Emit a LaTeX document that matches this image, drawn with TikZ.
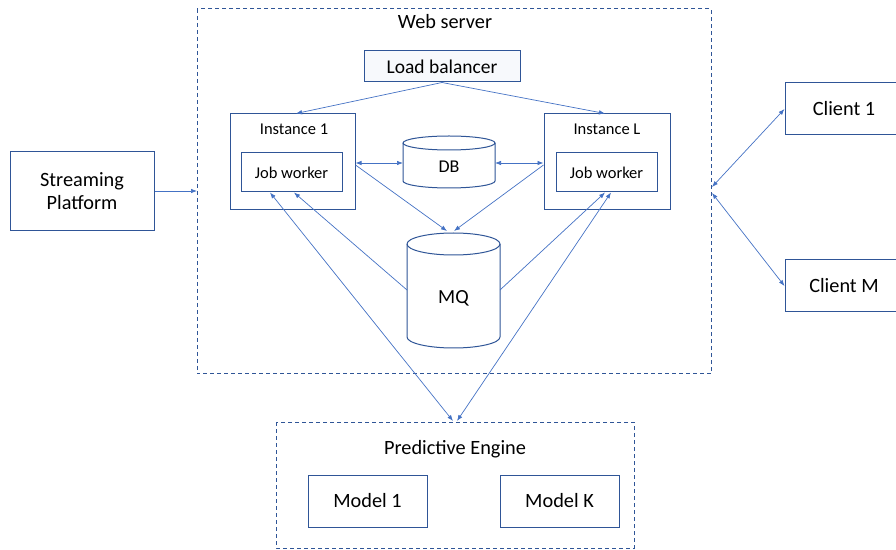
\documentclass[tikz,border=0pt]{standalone}
\usepackage{fontspec}
\setmainfont{Carlito}
\usetikzlibrary{arrows.meta}
\definecolor{lineblue}{HTML}{4472C4}
\definecolor{boxblue}{HTML}{2F5597}
\definecolor{lbfill}{HTML}{F7F9FC}
\begin{document}
\begin{tikzpicture}[x=1pt,y=1pt,
  box/.style={draw=boxblue,line width=1pt,fill=white,inner sep=0pt},
  dbox/.style={draw=boxblue,line width=1pt,dash pattern=on 4pt off 3pt},
  lbl/.style={inner sep=0pt,font=\fontsize{20.3}{23}\selectfont},
  small/.style={inner sep=0pt,font=\fontsize{16.5}{19}\selectfont},
  arr/.style={draw=lineblue,line width=0.7pt,-{Latex[length=6pt,width=4.5pt]}},
  darr/.style={draw=lineblue,line width=0.7pt,{Latex[length=6pt,width=4.5pt]}-{Latex[length=6pt,width=4.5pt]}},
  cyl/.style={draw=boxblue,line width=1pt,fill=white}
]
\useasboundingbox (0,0) rectangle (896,549);
% containers
\draw[dbox] (197,540) rectangle (711,175);
\node[lbl] (wst) at (445,527) {Web server};
\draw[dbox] (276,127) rectangle (634,1);
\node[lbl] (pet) at (455,100) {Predictive Engine};
% named anchors on containers
\coordinate (wsL) at (197,358);
\coordinate (wsR1) at (712,362);
\coordinate (wsR2) at (712,356);
\coordinate (peT1) at (453,128);
\coordinate (peT2) at (457,128);
% load balancer
\node[box,fill=lbfill,minimum width=156pt,minimum height=31pt,inner sep=0pt,font=\fontsize{19.5}{22}\selectfont] (lb) at (442,482.5) {Load balancer};
% instances
\node[box,minimum width=125pt,minimum height=96pt] (i1) at (292.5,387) {};
\node[small] at (294,420) {Instance 1};
\node[box,minimum width=101pt,minimum height=39pt,small] (jw1) at (291.5,376.5) {Job worker};
\node[box,minimum width=126pt,minimum height=96pt] (iL) at (607,387) {};
\node[small] at (607,420) {Instance L};
\node[box,minimum width=101pt,minimum height=39pt,small] (jwL) at (606.5,376.5) {Job worker};
% DB cylinder
\path[cyl] (403,406) -- (403,368) arc[start angle=180,end angle=360,x radius=46,y radius=7] -- (495,406) arc[start angle=0,end angle=180,x radius=46,y radius=7] -- cycle;
\draw[boxblue,line width=1pt] (403,406) arc[start angle=180,end angle=360,x radius=46,y radius=7];
\node[inner sep=0pt,font=\fontsize{18}{21}\selectfont] (db) at (449,382) {DB};
% MQ cylinder
\path[cyl] (407,305) -- (407,212) arc[start angle=180,end angle=360,x radius=46.5,y radius=11] -- (500,305) arc[start angle=0,end angle=180,x radius=46.5,y radius=11] -- cycle;
\draw[boxblue,line width=1pt] (407,305) arc[start angle=180,end angle=360,x radius=46.5,y radius=11];
\node[inner sep=0pt,font=\fontsize{20}{24}\selectfont] (mq) at (453.5,251) {MQ};
% streaming
\node[box,minimum width=144pt,minimum height=79pt,align=center,lbl] (sp) at (82,357.5) {Streaming\\Platform};
% clients
\node[box,minimum width=118pt,minimum height=52pt] (c1) at (844,440) {};
\node[lbl] at (844,440) {Client 1};
\node[box,minimum width=118pt,minimum height=52pt] (cM) at (844,263) {};
\node[lbl] at (844,263) {Client M};
% models
\node[box,minimum width=119pt,minimum height=52pt,lbl] (m1) at (367.5,48) {Model 1};
\node[box,minimum width=119pt,minimum height=52pt,lbl] (mK) at (559.5,48) {Model K};
% connectors
\draw[arr] (lb.south) -- (i1.north -| 296,0);
\draw[arr] (lb.south) -- (iL.north -| 605,0);
\draw[darr] (i1.east |- 0,386) -- (403,386);
\draw[darr] (495,386) -- (iL.west |- 0,386);
\draw[arr] (i1.east |- 0,384) -- (447,318);
\draw[arr] (iL.west |- 0,384) -- (454,318);
\draw[arr] (407,259) -- (jw1.south -| 294,0);
\draw[arr] (500,259) -- (jwL.south -| 605,0);
\draw[darr] (jw1.south -| 270,0) -- (peT1);
\draw[darr] (jwL.south -| 611,0) -- (peT2);
\draw[arr] (sp.east |- wsL) -- (wsL);
\draw[darr] (wsR1) -- (c1.west);
\draw[darr] (wsR2) -- (cM.west);
\end{tikzpicture}
\end{document}
